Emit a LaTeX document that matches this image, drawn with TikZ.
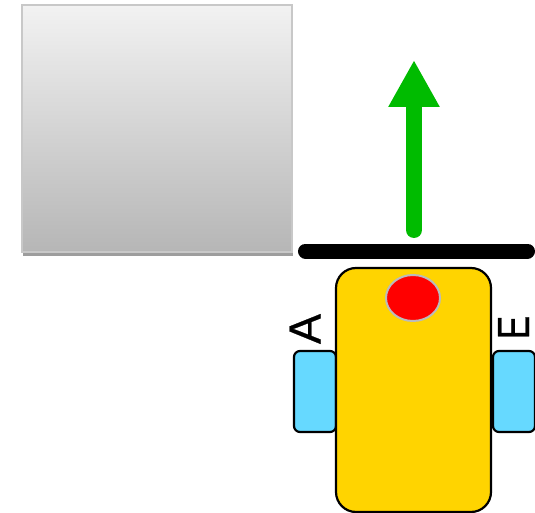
\documentclass[tikz,border=0pt]{standalone}
\usepackage{fontspec}
\setmainfont{Liberation Sans}
\newfontfamily\lblfont[FakeBold=0.6]{Liberation Sans}
\usetikzlibrary{arrows.meta,shadows,shapes.geometric}
\definecolor{boxtop}{HTML}{F2F2F2}
\definecolor{boxbot}{HTML}{B6B6B6}
\definecolor{boxline}{HTML}{C8C8C8}
\definecolor{robotyellow}{HTML}{FFD400}
\definecolor{wheelblue}{HTML}{66D9FF}
\definecolor{arrowgreen}{HTML}{00BB00}
\definecolor{sensorline}{HTML}{BBBBBB}
\tikzset{
  obstacle/.style={draw=boxline, line width=2pt, top color=boxtop, bottom color=boxbot,
    minimum width=270pt, minimum height=246pt, inner sep=0pt,
    drop shadow={shadow xshift=1pt, shadow yshift=-4pt, opacity=0.55, fill=black!70}},
  wall/.style={line width=15pt, line cap=round},
  body/.style={draw=black, line width=2.2pt, fill=robotyellow, rounded corners=20pt,
    minimum width=155pt, minimum height=244pt, inner sep=0pt},
  wheel/.style={draw=black, line width=2.2pt, fill=wheelblue, rounded corners=6pt,
    minimum width=42pt, minimum height=81pt, inner sep=0pt},
  sensor/.style={ellipse, draw=sensorline, line width=2pt, fill=red,
    minimum width=54pt, minimum height=46pt, inner sep=0pt},
  motion/.style={arrowgreen, line width=16pt, line cap=round,
    -{Triangle[width=48pt,length=47pt]}},
  wheellabel/.style={rotate=90, font=\lblfont\fontsize{45pt}{45pt}\selectfont,
    inner sep=0pt, text height=32pt, text depth=0pt}
}
\begin{document}
\begin{tikzpicture}[x=1pt,y=-1pt]
\useasboundingbox (0,0) rectangle (535,513);
\node[obstacle] (box) at (156.5,128.5) {};
\coordinate (wl) at (305.5,251);
\coordinate (wr) at (527.5,251);
\draw[wall] (wl) -- (wr);
\node[wheel] (lw) at (315,391.5) {};
\node[wheel] (rw) at (514,391.5) {};
\node[body] (robot) at (413.5,390) {};
\node[sensor] (eye) at (413,298) {};
\coordinate (as) at (414,230);
\coordinate (ae) at (414,60);
\draw[motion] (as) -- (ae);
\node[wheellabel] (la) at (304.5,329) {A};
\node[wheellabel] (le) at (513,327.5) {\scalebox{0.78}[1]{E}};
\end{tikzpicture}
\end{document}
